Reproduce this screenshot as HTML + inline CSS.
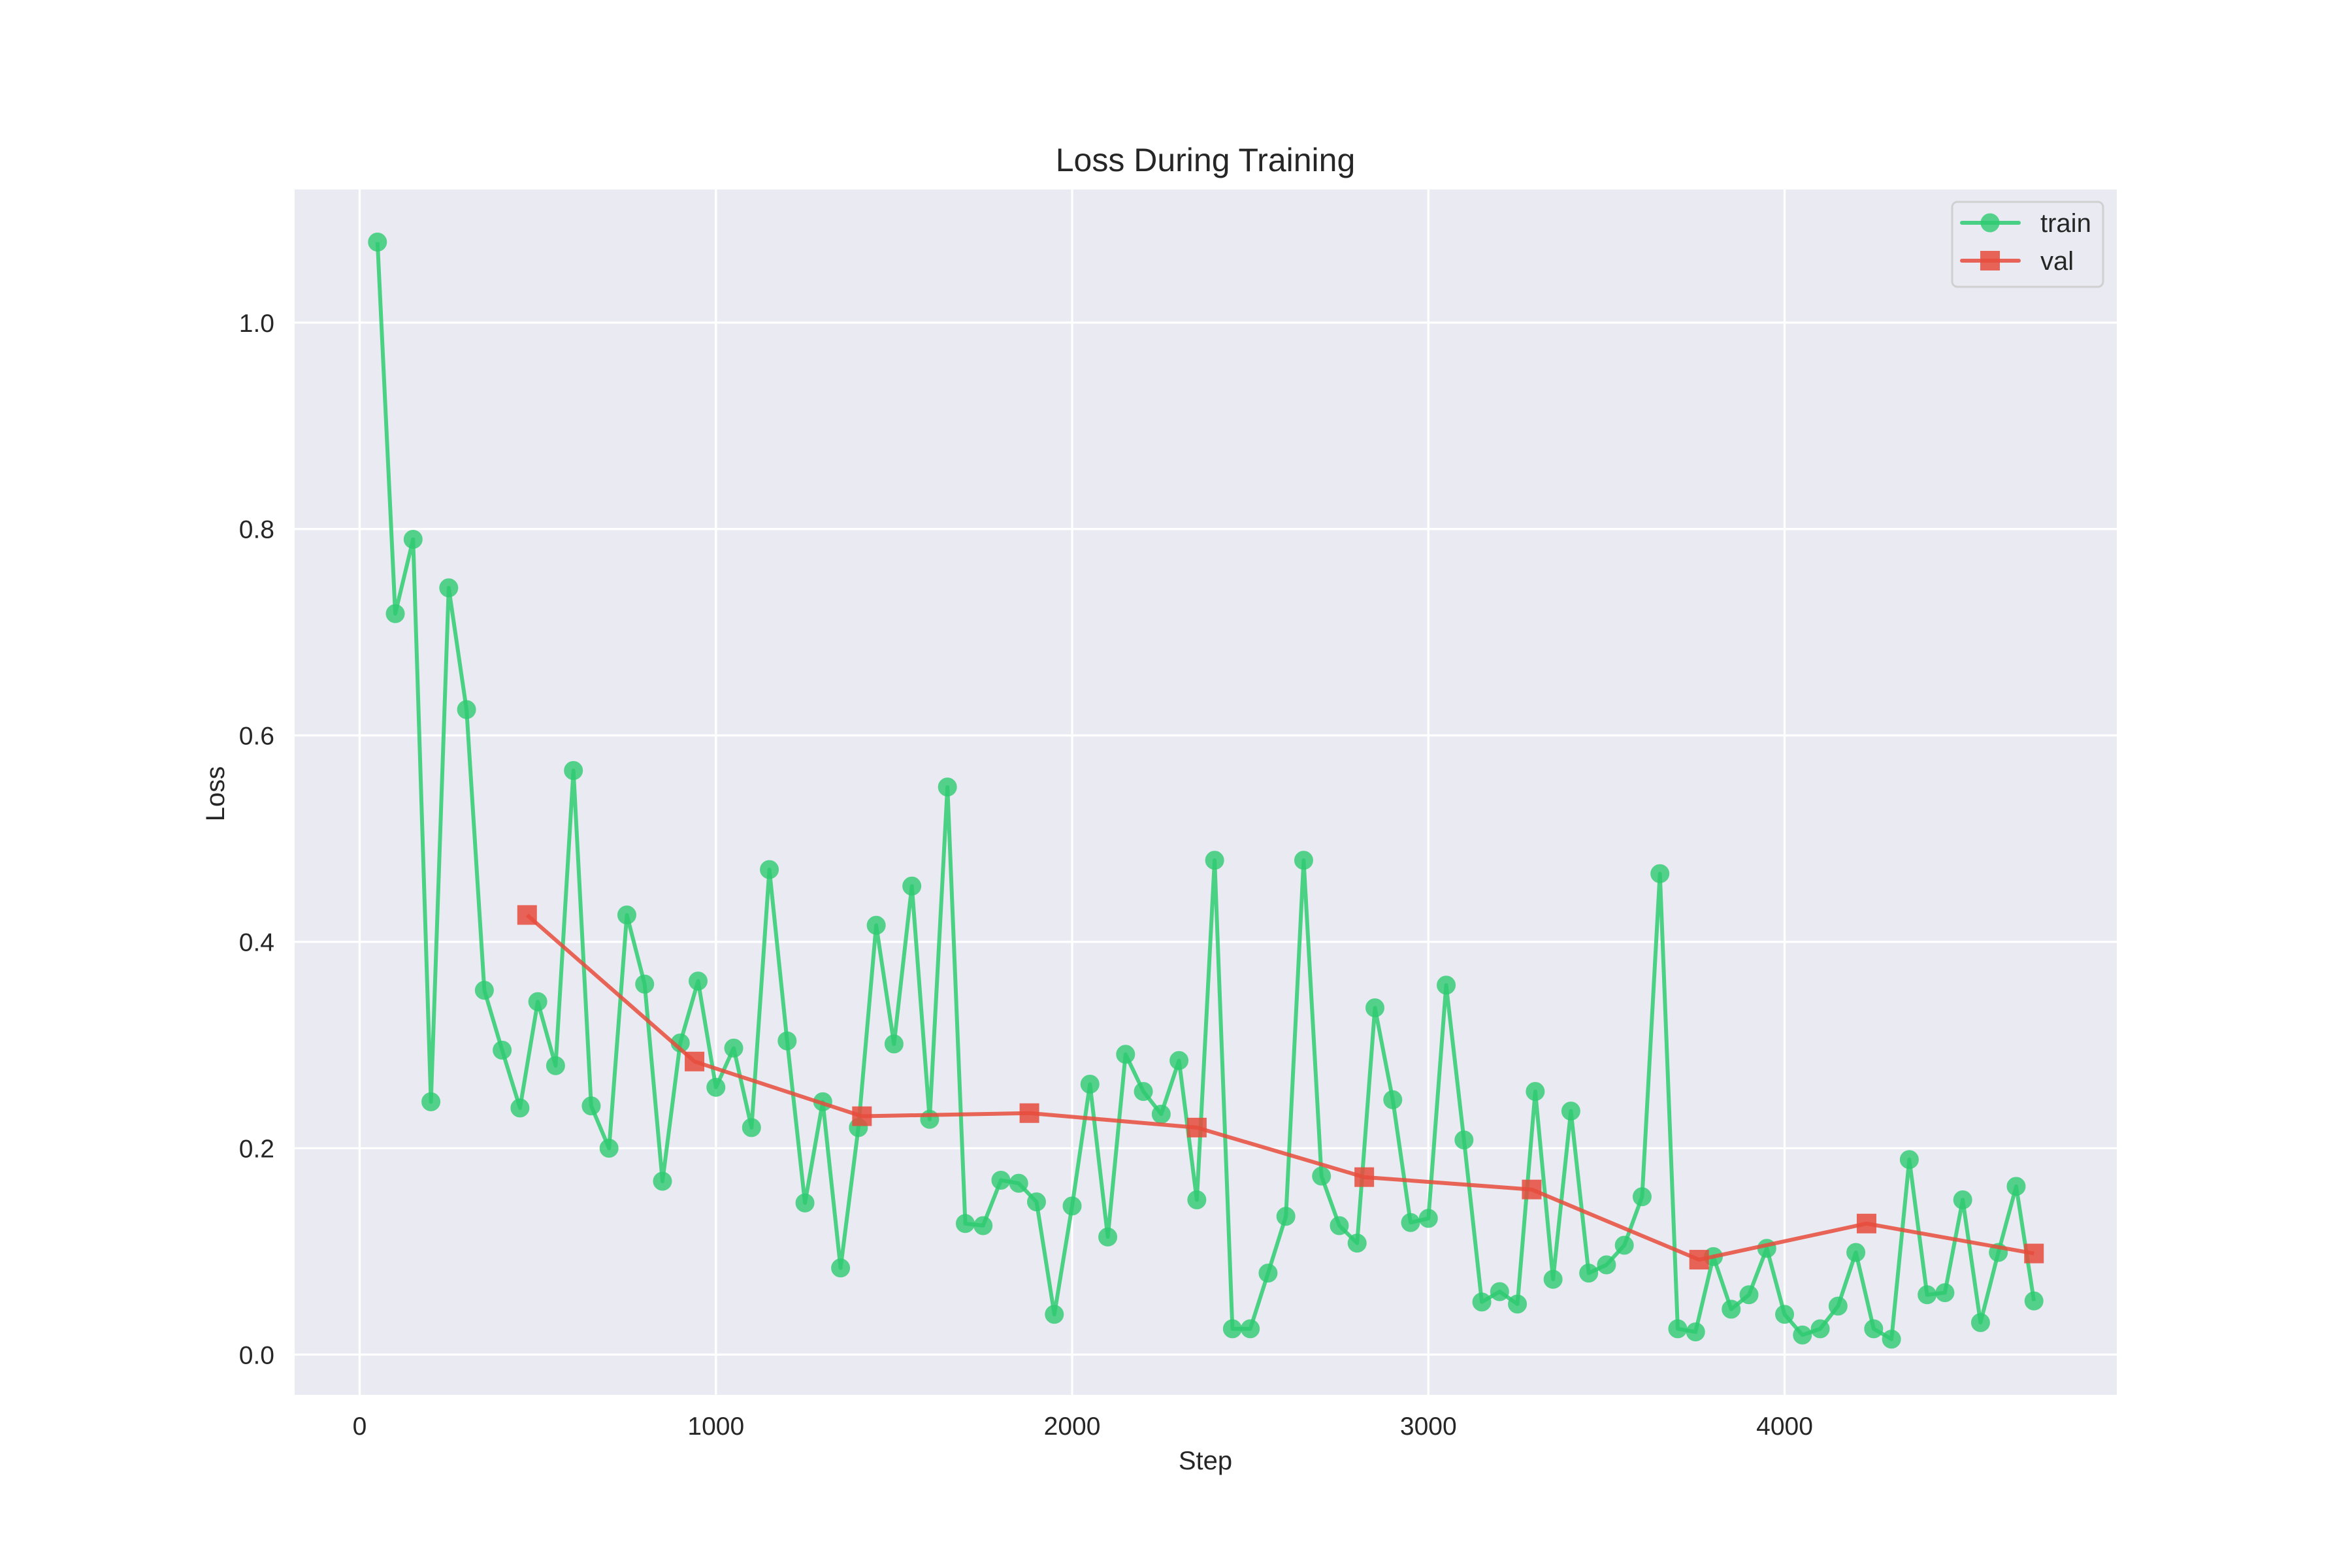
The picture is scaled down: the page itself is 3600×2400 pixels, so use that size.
<!DOCTYPE html>
<html><head><meta charset="utf-8"><style>
html,body{margin:0;padding:0;background:#fff;}
svg{display:block;font-family:"Liberation Sans","DejaVu Sans",sans-serif;}
</style></head><body>
<svg id="chart" width="3600" height="2400" viewBox="0 0 3600 2400">
<rect x="451" y="290" width="2789" height="1845" fill="#eaeaf2"/>
<g id="grid"></g>
<g id="ticks"></g>
<g id="series"></g>
<text x="1845" y="262" text-anchor="middle" font-size="50" fill="#262626">Loss During Training</text>
<text x="1845" y="2249" text-anchor="middle" font-size="40" fill="#262626">Step</text>
<text x="0" y="0" transform="translate(343,1215) rotate(-90)" text-anchor="middle" font-size="40" fill="#262626">Loss</text>
<g>
<rect x="2988" y="309" width="231" height="130" rx="8" fill="#eaeaf2" stroke="#d0d0d0" stroke-width="3"/>
<g>
<line x1="3003" y1="341" x2="3090" y2="341" stroke="#2ecc71" stroke-width="6" stroke-linecap="round" opacity="0.85"/>
<circle cx="3046" cy="341" r="13.5" fill="#2ecc71" stroke="#2ecc71" stroke-width="2" opacity="0.8"/>
<text x="3123" y="355" font-size="40" fill="#262626">train</text>
</g>
<g>
<line x1="3003" y1="399" x2="3090" y2="399" stroke="#e74c3c" stroke-width="6" stroke-linecap="round" opacity="0.85"/>
<rect x="3032" y="385" width="28" height="28" fill="#e74c3c" stroke="#e74c3c" stroke-width="2" opacity="0.85"/>
<text x="3123" y="413" font-size="40" fill="#262626">val</text>
</g>
</g>
</svg>
<script>
const trainSteps = [];
for (let s = 50; s <= 4700; s += 50) trainSteps.push(s);
const trainLoss = [1.078,0.718,0.790,0.245,0.743,0.625,0.353,0.295,0.239,0.342,0.280,0.566,0.241,0.200,0.426,0.359,0.168,0.302,0.362,0.259,0.297,0.220,0.470,0.304,0.147,0.245,0.084,0.220,0.416,0.301,0.454,0.228,0.550,0.127,0.125,0.169,0.166,0.148,0.039,0.144,0.262,0.114,0.291,0.255,0.233,0.285,0.150,0.479,0.025,0.025,0.079,0.134,0.479,0.173,0.125,0.108,0.336,0.247,0.128,0.132,0.358,0.208,0.051,0.061,0.049,0.255,0.073,0.236,0.079,0.087,0.106,0.153,0.466,0.025,0.022,0.095,0.044,0.058,0.103,0.039,0.019,0.025,0.047,0.099,0.025,0.015,0.189,0.058,0.060,0.150,0.031,0.099,0.163,0.052];
const valSteps = [470,940,1410,1880,2350,2820,3290,3760,4230,4700];
const valLoss = [0.426,0.284,0.231,0.234,0.220,0.172,0.160,0.092,0.127,0.098];
const xTicks = [0,1000,2000,3000,4000];
const yTicks = [0.0,0.2,0.4,0.6,0.8,1.0];

const NS = "http://www.w3.org/2000/svg";
const L=451,R=3240,T=290,B=2135;
const xMin=-182.5,xMax=4932.5,yMin=-0.039,yMax=1.129;
function sx(v){return L+(v-xMin)/(xMax-xMin)*(R-L);}
function sy(v){return B-(v-yMin)/(yMax-yMin)*(B-T);}
function mk(tag,attrs,parent){const e=document.createElementNS(NS,tag);for(const k in attrs)e.setAttribute(k,attrs[k]);parent.appendChild(e);return e;}
const grid=document.getElementById('grid'),ticks=document.getElementById('ticks'),series=document.getElementById('series');
xTicks.forEach(t=>{
  const g=mk('line',{x1:sx(t),x2:sx(t),y1:T,y2:B,stroke:'#fff','stroke-width':3.3},grid);
  
  
  const tx=mk('text',{x:sx(t),y:2196,'text-anchor':'middle','font-size':39,fill:'#262626'},ticks);
  tx.textContent=String(t);
  
  
});
yTicks.forEach(t=>{
  const g=mk('line',{x1:L,x2:R,y1:sy(t),y2:sy(t),stroke:'#fff','stroke-width':3.3},grid);
  
  
  const tx=mk('text',{x:420,y:sy(t)+14,'text-anchor':'end','font-size':39,fill:'#262626'},ticks);
  tx.textContent=t.toFixed(1);
  
  
});
const tp=trainSteps.map((s,i)=>sx(s).toFixed(1)+','+sy(trainLoss[i]).toFixed(1)).join(' ');
const tl=mk('polyline',{points:tp,fill:'none',stroke:'#2ecc71','stroke-width':6,'stroke-linejoin':'round',opacity:0.85},series);


trainSteps.forEach((s,i)=>{
  const c=mk('circle',{cx:sx(s),cy:sy(trainLoss[i]),r:13.5,fill:'#2ecc71',stroke:'#2ecc71','stroke-width':2,opacity:0.8},series);
  
  
});
const vp=valSteps.map((s,i)=>sx(s).toFixed(1)+','+sy(valLoss[i]).toFixed(1)).join(' ');
const vl=mk('polyline',{points:vp,fill:'none',stroke:'#e74c3c','stroke-width':6,'stroke-linejoin':'round',opacity:0.85},series);


valSteps.forEach((s,i)=>{
  const r=mk('rect',{x:sx(s)-14,y:sy(valLoss[i])-14,width:28,height:28,fill:'#e74c3c',stroke:'#e74c3c','stroke-width':2,opacity:0.85},series);
  
  
});
</script>
</body></html>
